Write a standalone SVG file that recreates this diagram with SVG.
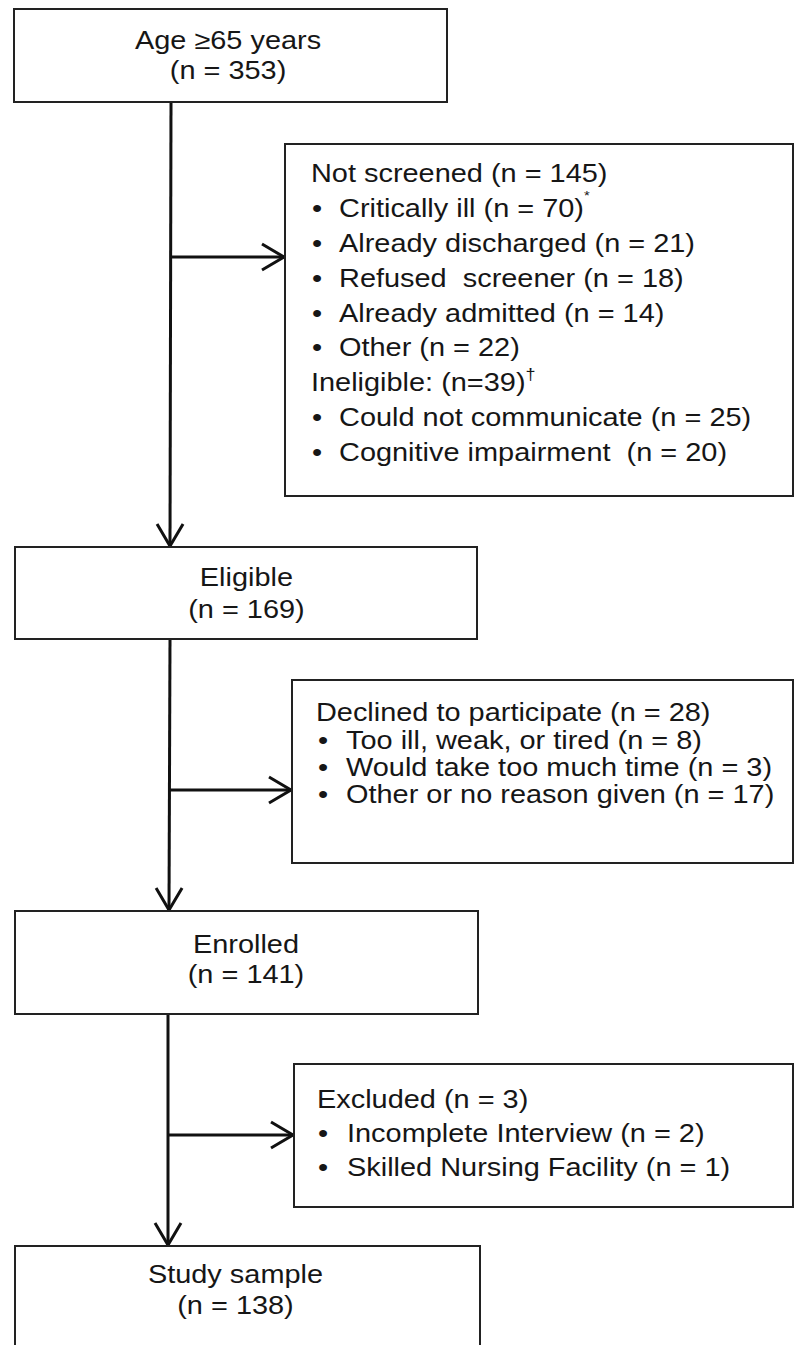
<svg xmlns="http://www.w3.org/2000/svg" width="795" height="1345" viewBox="0 0 795 1345">
<style>
.box{fill:#fff;stroke:#222;stroke-width:2}
.conn{fill:none;stroke:#111;stroke-width:3}
text{font-family:"Liberation Sans",Arial,sans-serif;font-size:25.6px;fill:#161616;white-space:pre}
.c{text-anchor:middle}
.sup{font-size:13px}
.dag{font-size:16px}
</style>
<defs>
<marker id="arr" markerUnits="userSpaceOnUse" markerWidth="30" markerHeight="30" viewBox="-25 -15 28 30" refX="0" refY="0" orient="auto">
<path d="M-22,-13 L0,0 L-22,13" fill="none" stroke="#111" stroke-width="3"/>
</marker>
</defs>
<rect width="795" height="1345" fill="#fff"/>
<g id="connectors">
<line class="conn" x1="171" y1="102" x2="170" y2="546" marker-end="url(#arr)"/>
<line class="conn" x1="171" y1="257" x2="284" y2="257" marker-end="url(#arr)"/>
<line class="conn" x1="170" y1="639" x2="169" y2="910" marker-end="url(#arr)"/>
<line class="conn" x1="170" y1="790" x2="291" y2="790" marker-end="url(#arr)"/>
<line class="conn" x1="168" y1="1014" x2="168" y2="1245" marker-end="url(#arr)"/>
<line class="conn" x1="168" y1="1135" x2="293" y2="1135" marker-end="url(#arr)"/>
</g>
<g id="node-age">
<rect class="box" x="14" y="9" width="433" height="93"/>
<g transform="scale(1.13,1)">
<text class="c" x="201.8" y="49">Age ≥65 years</text>
<text class="c" x="201.8" y="79">(n = 353)</text>
</g>
</g>
<g id="node-notscreened">
<rect class="box" x="285" y="144" width="508" height="352"/>
<g transform="scale(1.13,1)">
<text x="275.2" y="182">Not screened (n = 145)</text>
<text x="276.1" y="217">•</text><text x="300" y="217">Critically ill (n = 70)<tspan class="sup" dy="-17">*</tspan></text>
<text x="276.1" y="252">•</text><text x="300" y="252">Already discharged (n = 21)</text>
<text x="276.1" y="287">•</text><text x="300" y="287">Refused  screener (n = 18)</text>
<text x="276.1" y="322">•</text><text x="300" y="322">Already admitted (n = 14)</text>
<text x="276.1" y="356.5">•</text><text x="300" y="356.5">Other (n = 22)</text>
<text x="275.2" y="391.5">Ineligible: (n=39)<tspan class="dag" dy="-11">†</tspan></text>
<text x="276.1" y="426">•</text><text x="300" y="426">Could not communicate (n = 25)</text>
<text x="276.1" y="461">•</text><text x="300" y="461">Cognitive impairment  (n = 20)</text>
</g>
</g>
<g id="node-eligible">
<rect class="box" x="15" y="547" width="462" height="92"/>
<g transform="scale(1.13,1)">
<text class="c" x="218.1" y="586">Eligible</text>
<text class="c" x="218.1" y="618">(n = 169)</text>
</g>
</g>
<g id="node-declined">
<rect class="box" x="292" y="680" width="501" height="183"/>
<g transform="scale(1.13,1)">
<text x="279.6" y="721">Declined to participate (n = 28)</text>
<text x="281.4" y="749">•</text><text x="306.2" y="749">Too ill, weak, or tired (n = 8)</text>
<text x="281.4" y="776">•</text><text x="306.2" y="776">Would take too much time (n = 3)</text>
<text x="281.4" y="803">•</text><text x="306.2" y="803">Other or no reason given (n = 17)</text>
</g>
</g>
<g id="node-enrolled">
<rect class="box" x="15" y="911" width="463" height="103"/>
<g transform="scale(1.13,1)">
<text class="c" x="217.7" y="953">Enrolled</text>
<text class="c" x="217.7" y="983">(n = 141)</text>
</g>
</g>
<g id="node-excluded">
<rect class="box" x="294" y="1064" width="499" height="143"/>
<g transform="scale(1.13,1)">
<text x="280.5" y="1108">Excluded (n = 3)</text>
<text x="281.4" y="1142">•</text><text x="307.1" y="1142">Incomplete Interview (n = 2)</text>
<text x="281.4" y="1176">•</text><text x="307.1" y="1176">Skilled Nursing Facility (n = 1)</text>
</g>
</g>
<g id="node-study">
<rect class="box" x="15" y="1246" width="465" height="120"/>
<g transform="scale(1.13,1)">
<text class="c" x="208.4" y="1283">Study sample</text>
<text class="c" x="208.4" y="1314">(n = 138)</text>
</g>
</g>
</svg>
